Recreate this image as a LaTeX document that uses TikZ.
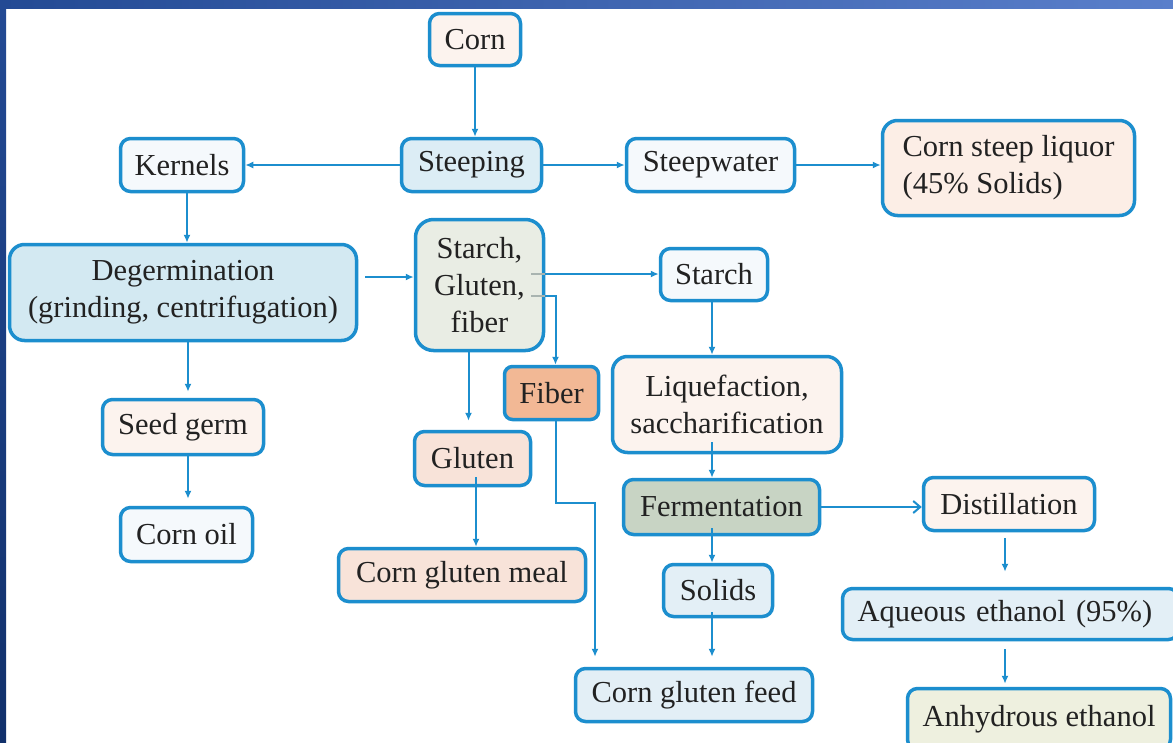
\documentclass[tikz,border=0pt]{standalone}
\usepackage{fontspec}
\setmainfont{Liberation Serif}
\usetikzlibrary{arrows.meta,calc}
\definecolor{bl}{RGB}{28,142,206}
\definecolor{txt}{HTML}{222222}
\definecolor{cPeach}{HTML}{FCF3EE}
\definecolor{cSteep}{HTML}{DCEDF5}
\definecolor{cWhiteBlue}{HTML}{F5F9FC}
\definecolor{cCSL}{HTML}{FCEEE6}
\definecolor{cDeg}{HTML}{D3E9F2}
\definecolor{cSGF}{HTML}{E9EDE4}
\definecolor{cFiber}{HTML}{F2B895}
\definecolor{cGluten}{HTML}{F8E3D9}
\definecolor{cFerm}{HTML}{C8D4C4}
\definecolor{cLightBlue}{HTML}{E3EFF6}
\definecolor{cAnh}{HTML}{EEF0DF}
\definecolor{navyA}{HTML}{234A94}
\definecolor{navyB}{HTML}{5A7FCB}
\definecolor{navyC}{HTML}{11306B}
\definecolor{stub}{HTML}{A9B4B0}
\begin{document}
\begin{tikzpicture}[x=1pt,y=-1pt,
  box/.style={draw=bl, line width=3.5pt, rounded corners=10pt, inner sep=0pt,
    align=center, text=txt, font=\fontsize{30.5}{37}\selectfont},
  conn/.style={draw=bl, line width=2pt, -{Latex[length=8pt,width=7pt]}},
  openconn/.style={draw=bl, line width=2pt, -{Straight Barb[length=7pt,width=12pt,line width=2pt]}},
]
\useasboundingbox (0,0) rectangle (1173,742);
\clip (0,0) rectangle (1173,742);
\fill[white] (0,0) rectangle (1173,742);

% boxes
\node[box, fill=cPeach, minimum width=91pt, minimum height=52pt] (corn) at (475,39.5) {Corn};
\node[box, fill=cSteep, minimum width=140pt, minimum height=53pt] (steep) at (471.5,165) {Steeping};
\node[box, fill=cWhiteBlue, minimum width=123pt, minimum height=53pt] (kern) at (182,165) {Kernels};
\node[box, fill=cWhiteBlue, minimum width=168pt, minimum height=53pt] (stw) at (710.5,165) {Steepwater};
\node[box, fill=cCSL, rounded corners=15pt, minimum width=252pt, minimum height=95pt, align=left] (csl) at (1008.5,168) {Corn steep liquor\\(45\% Solids)};
\node[box, fill=cDeg, rounded corners=15pt, minimum width=347pt, minimum height=96pt] (deg) at (183,292.5) {Degermination\\(grinding, centrifugation)};
\node[box, fill=cSGF, rounded corners=18pt, minimum width=128pt, minimum height=131pt] (sgf) at (479.5,285) {Starch,\\Gluten,\\fiber};
\node[box, fill=cWhiteBlue, minimum width=107pt, minimum height=52pt] (starch) at (714,274.5) {Starch};
\node[box, fill=cFiber, rounded corners=8pt, minimum width=94pt, minimum height=53pt] (fiber) at (551.5,393) {Fiber};
\node[box, fill=cPeach, rounded corners=15pt, minimum width=229pt, minimum height=96pt] (liq) at (727,404.5) {Liquefaction,\\saccharification};
\node[box, fill=cPeach, minimum width=161pt, minimum height=55pt] (seed) at (183,427) {Seed germ};
\node[box, fill=cGluten, minimum width=116pt, minimum height=54pt] (gluten) at (472.5,458.5) {Gluten};
\node[box, fill=cFerm, minimum width=196pt, minimum height=55pt] (ferm) at (721.5,507) {Fermentation};
\node[box, fill=cPeach, minimum width=171pt, minimum height=53pt] (dist) at (1009,504) {Distillation};
\node[box, fill=cWhiteBlue, minimum width=132pt, minimum height=54pt] (oil) at (186.5,534.5) {Corn oil};
\node[box, fill=cGluten, minimum width=247pt, minimum height=53pt] (cgm) at (462,575) {Corn gluten meal};
\node[box, fill=cLightBlue, minimum width=109pt, minimum height=52pt] (solids) at (718,590.5) {Solids};
\node[box, fill=cLightBlue, minimum width=336pt, minimum height=51pt, text width=306pt, align=left] (aq) at (1010.5,614) {Aqueous ethanol (95\%)};
\node[box, fill=cLightBlue, minimum width=237pt, minimum height=53pt] (cgf) at (694,695) {Corn gluten feed};
\node[box, fill=cAnh, minimum width=263pt, minimum height=61pt] (anh) at (1039,719) {Anhydrous ethanol};

% connectors
\draw[conn] (corn.south) -- (corn.south |- steep.north);
\draw[conn] (steep.west) -- (kern.east);
\draw[conn] (steep.east) -- (stw.west);
\draw[conn] (stw.east) -- (stw.east -| csl.west);
\coordinate (kx) at ($(kern.south)+(5,0)$);
\draw[conn] (kx) -- (kx |- deg.north);
\coordinate (dx) at ($(deg.east)+(0,-15.5)$);
\draw[conn, shorten <=7pt] (dx) -- (dx -| sgf.west);
% starch, gluten, fiber outputs
\coordinate (s1) at ($(sgf.east)+(-14,-11)$);
\coordinate (s2) at ($(sgf.east)+(-14,11)$);
\draw[stub, line width=1.2pt] (s1) -- (s1 -| sgf.east);
\draw[stub, line width=1.2pt] (s2) -- (s2 -| sgf.east);
\draw[conn] (s1 -| sgf.east) -- (s1 -| starch.west);
\coordinate (fx) at ($(fiber.north)+(4,0)$);
\draw[conn] (s2 -| sgf.east) -| (fx);
\coordinate (gx) at ($(sgf.south)+(-11,0)$);
\draw[conn, shorten >=9pt] (gx) -- (gx |- gluten.north);
\coordinate (gy) at ($(gluten.south)+(3.5,-10)$);
\draw[conn] (gy) -- (gy |- cgm.north);
\coordinate (fb) at ($(fiber.south)+(4.5,0)$);
\coordinate (fbend) at (595,503);
\draw[conn, shorten >=10pt] (fb) |- (fbend) -- (fbend |- cgf.north);
% starch line
\coordinate (sx) at ($(starch.south)+(-2,0)$);
\draw[conn] (sx) -- (sx |- liq.north);
\coordinate (lq) at ($(liq.south)+(0,-12)$);
\draw[conn] (lq -| sx) -- (sx |- ferm.north);
\draw[openconn] (ferm.east) -- (ferm.east -| dist.west);
\coordinate (fm) at ($(ferm.south)+(0,-8)$);
\draw[conn] (fm -| sx) -- (sx |- solids.north);
\coordinate (so) at ($(solids.south)+(0,-6)$);
\draw[conn, shorten >=10pt] (so -| sx) -- (sx |- cgf.north);
% ethanol line
\coordinate (ex) at ($(dist.south)+(-4,0)$);
\draw[conn, shorten <=6pt, shorten >=15pt] (ex) -- (ex |- aq.north);
\draw[conn, shorten <=8pt, shorten >=3pt] (ex |- aq.south) -- (ex |- anh.north);
% germ line
\coordinate (gm) at ($(deg.south)+(5,0)$);
\draw[conn, shorten >=6pt] (gm) -- (gm |- seed.north);
\draw[conn, shorten >=7pt] (gm |- seed.south) -- (gm |- oil.north);

% frame bands
\shade[left color=navyA, right color=navyB] (0,0) rectangle (1173,8);
\shade[top color=navyA, bottom color=navyC] (0,0) rectangle (6,742);
\end{tikzpicture}
\end{document}
